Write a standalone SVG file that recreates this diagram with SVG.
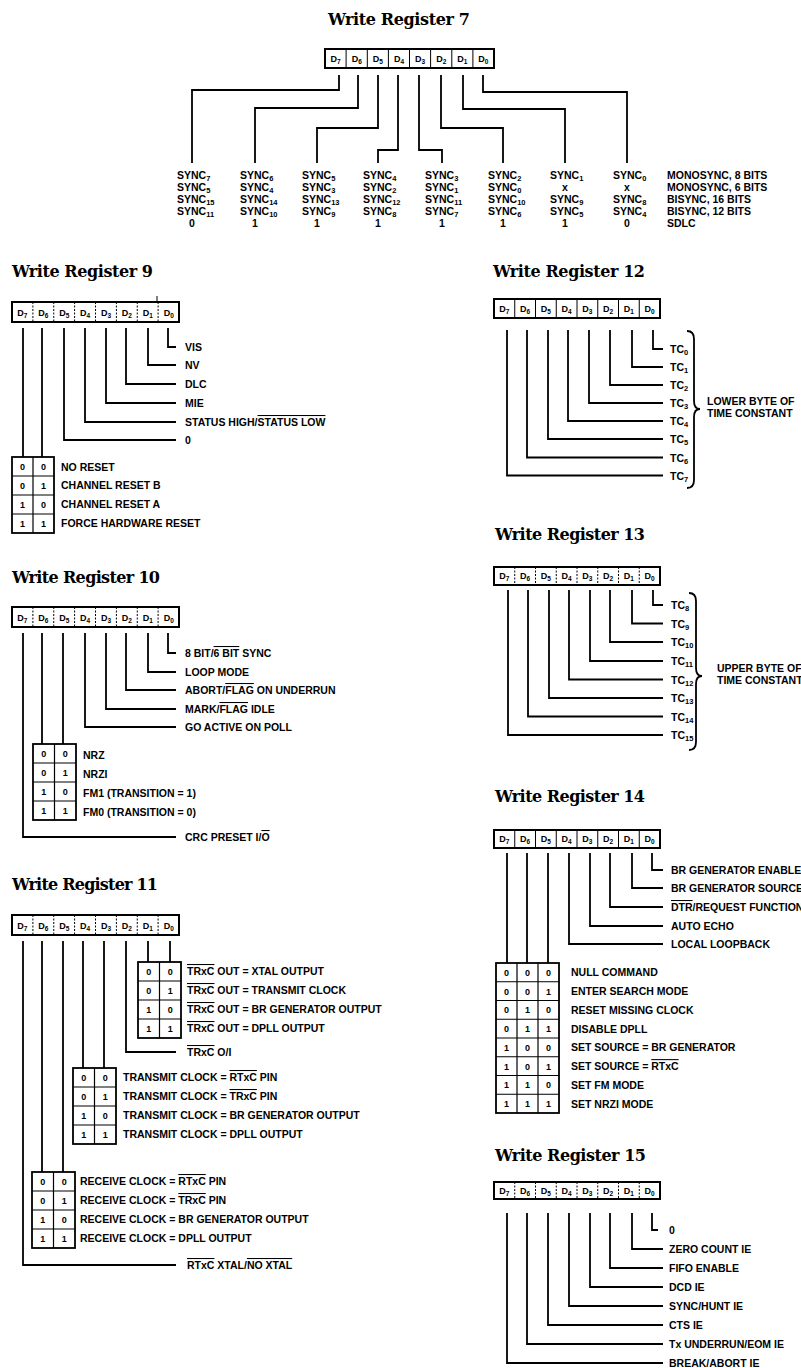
<svg xmlns="http://www.w3.org/2000/svg" width="801" height="1368" viewBox="0 0 801 1368">
<style>
.t{font-family:"DejaVu Serif","Liberation Serif",serif;font-weight:bold;font-size:16px;fill:#000}
.l{font-family:"Liberation Sans",Arial,sans-serif;font-weight:bold;font-size:10.5px;fill:#000}
.m{text-anchor:middle}
.c{font-family:"Liberation Sans",Arial,sans-serif;font-weight:bold;font-size:9px;text-anchor:middle;fill:#000}
.s{font-size:6.5px}
.ss{font-size:7.5px}
.w{fill:none;stroke:#000;stroke-width:1.8}
.bx{fill:none;stroke:#000;stroke-width:2}
.dv{stroke:#000;stroke-width:1}
.dd{stroke:#000;stroke-width:1;stroke-dasharray:2 1.5}
.tb{fill:none;stroke:#000;stroke-width:1.8}
.tl{stroke:#000;stroke-width:1.2}
.o{text-decoration:overline}
</style>
<rect width="801" height="1368" fill="#fff"/>

<!-- ================= WR7 ================= -->
<g id="wr7">
<text class="t" x="328" y="25" textLength="142">Write Register 7</text>
<rect class="bx" x="325" y="49" width="169" height="19"/>
<path class="dv" d="M346.1 49V68M367.3 49V68M388.4 49V68M409.5 49V68M430.6 49V68M451.8 49V68M472.9 49V68"/>
<text class="c" x="335.6" y="62">D<tspan class="s" dy="2">7</tspan></text>
<text class="c" x="356.7" y="62">D<tspan class="s" dy="2">6</tspan></text>
<text class="c" x="377.8" y="62">D<tspan class="s" dy="2">5</tspan></text>
<text class="c" x="399" y="62">D<tspan class="s" dy="2">4</tspan></text>
<text class="c" x="420.1" y="62">D<tspan class="s" dy="2">3</tspan></text>
<text class="c" x="441.2" y="62">D<tspan class="s" dy="2">2</tspan></text>
<text class="c" x="462.3" y="62">D<tspan class="s" dy="2">1</tspan></text>
<text class="c" x="483.4" y="62">D<tspan class="s" dy="2">0</tspan></text>
<g id="wr7-c1">
<text class="l" x="177" y="179">SYNC<tspan class="ss" dy="2">7</tspan></text>
<text class="l" x="177" y="191">SYNC<tspan class="ss" dy="2">5</tspan></text>
<text class="l" x="177" y="203">SYNC<tspan class="ss" dy="2">15</tspan></text>
<text class="l" x="177" y="215">SYNC<tspan class="ss" dy="2">11</tspan></text>
<text class="l m" x="192" y="227">0</text>
</g>
<g id="wr7-c2">
<text class="l" x="240" y="179">SYNC<tspan class="ss" dy="2">6</tspan></text>
<text class="l" x="240" y="191">SYNC<tspan class="ss" dy="2">4</tspan></text>
<text class="l" x="240" y="203">SYNC<tspan class="ss" dy="2">14</tspan></text>
<text class="l" x="240" y="215">SYNC<tspan class="ss" dy="2">10</tspan></text>
<text class="l m" x="255" y="227">1</text>
</g>
<g id="wr7-c3">
<text class="l" x="302" y="179">SYNC<tspan class="ss" dy="2">5</tspan></text>
<text class="l" x="302" y="191">SYNC<tspan class="ss" dy="2">3</tspan></text>
<text class="l" x="302" y="203">SYNC<tspan class="ss" dy="2">13</tspan></text>
<text class="l" x="302" y="215">SYNC<tspan class="ss" dy="2">9</tspan></text>
<text class="l m" x="317" y="227">1</text>
</g>
<g id="wr7-c4">
<text class="l" x="363" y="179">SYNC<tspan class="ss" dy="2">4</tspan></text>
<text class="l" x="363" y="191">SYNC<tspan class="ss" dy="2">2</tspan></text>
<text class="l" x="363" y="203">SYNC<tspan class="ss" dy="2">12</tspan></text>
<text class="l" x="363" y="215">SYNC<tspan class="ss" dy="2">8</tspan></text>
<text class="l m" x="378" y="227">1</text>
</g>
<g id="wr7-c5">
<text class="l" x="425" y="179">SYNC<tspan class="ss" dy="2">3</tspan></text>
<text class="l" x="425" y="191">SYNC<tspan class="ss" dy="2">1</tspan></text>
<text class="l" x="425" y="203">SYNC<tspan class="ss" dy="2">11</tspan></text>
<text class="l" x="425" y="215">SYNC<tspan class="ss" dy="2">7</tspan></text>
<text class="l m" x="442" y="227">1</text>
</g>
<g id="wr7-c6">
<text class="l" x="488" y="179">SYNC<tspan class="ss" dy="2">2</tspan></text>
<text class="l" x="488" y="191">SYNC<tspan class="ss" dy="2">0</tspan></text>
<text class="l" x="488" y="203">SYNC<tspan class="ss" dy="2">10</tspan></text>
<text class="l" x="488" y="215">SYNC<tspan class="ss" dy="2">6</tspan></text>
<text class="l m" x="503" y="227">1</text>
</g>
<g id="wr7-c7">
<text class="l" x="550" y="179">SYNC<tspan class="ss" dy="2">1</tspan></text>
<text class="l m" x="565" y="191">x</text>
<text class="l" x="550" y="203">SYNC<tspan class="ss" dy="2">9</tspan></text>
<text class="l" x="550" y="215">SYNC<tspan class="ss" dy="2">5</tspan></text>
<text class="l m" x="565" y="227">1</text>
</g>
<g id="wr7-c8">
<text class="l" x="613" y="179">SYNC<tspan class="ss" dy="2">0</tspan></text>
<text class="l m" x="627" y="191">x</text>
<text class="l" x="613" y="203">SYNC<tspan class="ss" dy="2">8</tspan></text>
<text class="l" x="613" y="215">SYNC<tspan class="ss" dy="2">4</tspan></text>
<text class="l m" x="627" y="227">0</text>
</g>
<g id="wr7-modes">
<text class="l" x="667" y="179">MONOSYNC, 8 BITS</text>
<text class="l" x="667" y="191">MONOSYNC, 6 BITS</text>
<text class="l" x="667" y="203">BISYNC, 16 BITS</text>
<text class="l" x="667" y="215">BISYNC, 12 BITS</text>
<text class="l" x="667" y="227">SDLC</text>
</g>
</g>

<!-- ================= WR9 ================= -->
<g id="wr9">
<text class="t" x="12" y="277" textLength="141">Write Register 9</text>
<rect class="bx" x="12" y="302" width="167" height="20"/>
<path class="dd" d="M32.9 302V322M53.75 302V322M74.6 302V322M95.5 302V322M116.4 302V322M137.25 302V322M158.1 302V322"/>
<path class="dv" d="M157 296V302"/>
<text class="c" x="22.4" y="316">D<tspan class="s" dy="2">7</tspan></text>
<text class="c" x="43.3" y="316">D<tspan class="s" dy="2">6</tspan></text>
<text class="c" x="64.2" y="316">D<tspan class="s" dy="2">5</tspan></text>
<text class="c" x="85.1" y="316">D<tspan class="s" dy="2">4</tspan></text>
<text class="c" x="106" y="316">D<tspan class="s" dy="2">3</tspan></text>
<text class="c" x="126.9" y="316">D<tspan class="s" dy="2">2</tspan></text>
<text class="c" x="147.8" y="316">D<tspan class="s" dy="2">1</tspan></text>
<text class="c" x="168.7" y="316">D<tspan class="s" dy="2">0</tspan></text>
<text class="l" x="185" y="351">VIS</text>
<text class="l" x="185" y="369">NV</text>
<text class="l" x="185" y="388">DLC</text>
<text class="l" x="185" y="407">MIE</text>
<text class="l" x="185" y="426">STATUS HIGH/<tspan class="o">STATUS LOW</tspan></text>
<text class="l" x="185" y="444">0</text>
<g id="wr9-table">
<rect class="tb" x="12" y="457" width="42" height="76"/>
<path class="tl" d="M33 457V533M12 476H54M12 495H54M12 514H54"/>
<text class="c" x="22.5" y="470">0</text><text class="c" x="43.5" y="470">0</text>
<text class="c" x="22.5" y="489">0</text><text class="c" x="43.5" y="489">1</text>
<text class="c" x="22.5" y="508">1</text><text class="c" x="43.5" y="508">0</text>
<text class="c" x="22.5" y="527">1</text><text class="c" x="43.5" y="527">1</text>
</g>
<text class="l" x="61" y="471">NO RESET</text>
<text class="l" x="61" y="489">CHANNEL RESET B</text>
<text class="l" x="61" y="508">CHANNEL RESET A</text>
<text class="l" x="61" y="527">FORCE HARDWARE RESET</text>
</g>

<!-- ================= WR10 ================= -->
<g id="wr10">
<text class="t" x="12" y="583" textLength="148">Write Register 10</text>
<rect class="bx" x="12" y="607" width="167" height="20"/>
<path class="dd" d="M32.9 607V627M53.75 607V627M74.6 607V627M95.5 607V627M116.4 607V627M137.25 607V627M158.1 607V627"/>
<text class="c" x="22.4" y="621">D<tspan class="s" dy="2">7</tspan></text>
<text class="c" x="43.3" y="621">D<tspan class="s" dy="2">6</tspan></text>
<text class="c" x="64.2" y="621">D<tspan class="s" dy="2">5</tspan></text>
<text class="c" x="85.1" y="621">D<tspan class="s" dy="2">4</tspan></text>
<text class="c" x="106" y="621">D<tspan class="s" dy="2">3</tspan></text>
<text class="c" x="126.9" y="621">D<tspan class="s" dy="2">2</tspan></text>
<text class="c" x="147.8" y="621">D<tspan class="s" dy="2">1</tspan></text>
<text class="c" x="168.7" y="621">D<tspan class="s" dy="2">0</tspan></text>
<text class="l" x="185" y="657">8 BIT/<tspan class="o">6 BIT</tspan> SYNC</text>
<text class="l" x="185" y="676">LOOP MODE</text>
<text class="l" x="185" y="694">ABORT/<tspan class="o">FLAG</tspan> ON UNDERRUN</text>
<text class="l" x="185" y="713">MARK/<tspan class="o">FLAG</tspan> IDLE</text>
<text class="l" x="185" y="731">GO ACTIVE ON POLL</text>
<g id="wr10-table">
<rect class="tb" x="33" y="744" width="43" height="76"/>
<path class="tl" d="M54.5 744V820M33 763H76M33 782H76M33 801H76"/>
<text class="c" x="43.75" y="757">0</text><text class="c" x="65.25" y="757">0</text>
<text class="c" x="43.75" y="776">0</text><text class="c" x="65.25" y="776">1</text>
<text class="c" x="43.75" y="795">1</text><text class="c" x="65.25" y="795">0</text>
<text class="c" x="43.75" y="814">1</text><text class="c" x="65.25" y="814">1</text>
</g>
<text class="l" x="83" y="759">NRZ</text>
<text class="l" x="83" y="778">NRZI</text>
<text class="l" x="83" y="797">FM1 (TRANSITION = 1)</text>
<text class="l" x="83" y="816">FM0 (TRANSITION = 0)</text>
<text class="l" x="185" y="841">CRC PRESET I/<tspan class="o">O</tspan></text>
</g>

<!-- ================= WR11 ================= -->
<g id="wr11">
<text class="t" x="12" y="890" textLength="146">Write Register 11</text>
<rect class="bx" x="12" y="915" width="167" height="20"/>
<path class="dd" d="M32.9 915V935M53.75 915V935M74.6 915V935M95.5 915V935M116.4 915V935M137.25 915V935M158.1 915V935"/>
<text class="c" x="22.4" y="929">D<tspan class="s" dy="2">7</tspan></text>
<text class="c" x="43.3" y="929">D<tspan class="s" dy="2">6</tspan></text>
<text class="c" x="64.2" y="929">D<tspan class="s" dy="2">5</tspan></text>
<text class="c" x="85.1" y="929">D<tspan class="s" dy="2">4</tspan></text>
<text class="c" x="106" y="929">D<tspan class="s" dy="2">3</tspan></text>
<text class="c" x="126.9" y="929">D<tspan class="s" dy="2">2</tspan></text>
<text class="c" x="147.8" y="929">D<tspan class="s" dy="2">1</tspan></text>
<text class="c" x="168.7" y="929">D<tspan class="s" dy="2">0</tspan></text>
<g id="wr11-table1">
<rect class="tb" x="138" y="962" width="43" height="76"/>
<path class="tl" d="M159.5 962V1038M138 981H181M138 1000H181M138 1019H181"/>
<text class="c" x="148.75" y="975">0</text><text class="c" x="170.25" y="975">0</text>
<text class="c" x="148.75" y="994">0</text><text class="c" x="170.25" y="994">1</text>
<text class="c" x="148.75" y="1013">1</text><text class="c" x="170.25" y="1013">0</text>
<text class="c" x="148.75" y="1032">1</text><text class="c" x="170.25" y="1032">1</text>
</g>
<text class="l" x="187" y="975"><tspan class="o">TRxC</tspan> OUT = XTAL OUTPUT</text>
<text class="l" x="187" y="994"><tspan class="o">TRxC</tspan> OUT = TRANSMIT CLOCK</text>
<text class="l" x="187" y="1013"><tspan class="o">TRxC</tspan> OUT = BR GENERATOR OUTPUT</text>
<text class="l" x="187" y="1032"><tspan class="o">TRxC</tspan> OUT = DPLL OUTPUT</text>
<text class="l" x="187" y="1056"><tspan class="o">TRxC</tspan> O/I</text>
<g id="wr11-table2">
<rect class="tb" x="73" y="1068" width="43" height="76"/>
<path class="tl" d="M94.5 1068V1144M73 1087H116M73 1106H116M73 1125H116"/>
<text class="c" x="83.75" y="1081">0</text><text class="c" x="105.25" y="1081">0</text>
<text class="c" x="83.75" y="1100">0</text><text class="c" x="105.25" y="1100">1</text>
<text class="c" x="83.75" y="1119">1</text><text class="c" x="105.25" y="1119">0</text>
<text class="c" x="83.75" y="1138">1</text><text class="c" x="105.25" y="1138">1</text>
</g>
<text class="l" x="123" y="1081">TRANSMIT CLOCK = <tspan class="o">RTxC</tspan> PIN</text>
<text class="l" x="123" y="1100">TRANSMIT CLOCK = <tspan class="o">TRxC</tspan> PIN</text>
<text class="l" x="123" y="1119">TRANSMIT CLOCK = BR GENERATOR OUTPUT</text>
<text class="l" x="123" y="1138">TRANSMIT CLOCK = DPLL OUTPUT</text>
<g id="wr11-table3">
<rect class="tb" x="32" y="1172" width="43" height="76"/>
<path class="tl" d="M53.5 1172V1248M32 1191H75M32 1210H75M32 1229H75"/>
<text class="c" x="42.75" y="1185">0</text><text class="c" x="64.25" y="1185">0</text>
<text class="c" x="42.75" y="1204">0</text><text class="c" x="64.25" y="1204">1</text>
<text class="c" x="42.75" y="1223">1</text><text class="c" x="64.25" y="1223">0</text>
<text class="c" x="42.75" y="1242">1</text><text class="c" x="64.25" y="1242">1</text>
</g>
<text class="l" x="80" y="1185">RECEIVE CLOCK = <tspan class="o">RTxC</tspan> PIN</text>
<text class="l" x="80" y="1204">RECEIVE CLOCK = <tspan class="o">TRxC</tspan> PIN</text>
<text class="l" x="80" y="1223">RECEIVE CLOCK = BR GENERATOR OUTPUT</text>
<text class="l" x="80" y="1242">RECEIVE CLOCK = DPLL OUTPUT</text>
<text class="l" x="187" y="1269"><tspan class="o">RTxC</tspan> XTAL/<tspan class="o">NO XTAL</tspan></text>
</g>

<!-- ================= WR12 ================= -->
<g id="wr12">
<text class="t" x="493" y="277" textLength="152">Write Register 12</text>
<rect class="bx" x="494" y="299" width="166" height="19"/>
<path class="dv" d="M514.75 299V318M535.5 299V318M556.25 299V318M577 299V318M597.75 299V318M618.5 299V318M639.25 299V318"/>
<text class="c" x="504.4" y="312">D<tspan class="s" dy="2">7</tspan></text>
<text class="c" x="525.1" y="312">D<tspan class="s" dy="2">6</tspan></text>
<text class="c" x="545.9" y="312">D<tspan class="s" dy="2">5</tspan></text>
<text class="c" x="566.6" y="312">D<tspan class="s" dy="2">4</tspan></text>
<text class="c" x="587.4" y="312">D<tspan class="s" dy="2">3</tspan></text>
<text class="c" x="608.1" y="312">D<tspan class="s" dy="2">2</tspan></text>
<text class="c" x="628.9" y="312">D<tspan class="s" dy="2">1</tspan></text>
<text class="c" x="649.6" y="312">D<tspan class="s" dy="2">0</tspan></text>
<text class="l" x="670" y="353">TC<tspan class="ss" dy="2">0</tspan></text>
<text class="l" x="670" y="371">TC<tspan class="ss" dy="2">1</tspan></text>
<text class="l" x="670" y="389">TC<tspan class="ss" dy="2">2</tspan></text>
<text class="l" x="670" y="407">TC<tspan class="ss" dy="2">3</tspan></text>
<text class="l" x="670" y="425">TC<tspan class="ss" dy="2">4</tspan></text>
<text class="l" x="670" y="443">TC<tspan class="ss" dy="2">5</tspan></text>
<text class="l" x="670" y="461.5">TC<tspan class="ss" dy="2">6</tspan></text>
<text class="l" x="670" y="479.5">TC<tspan class="ss" dy="2">7</tspan></text>
<path class="w" d="M687 331Q694 331 694 339V401Q694 409 700 409Q694 409 694 417V480Q694 488 687 488"/>
<text class="l" x="707" y="405">LOWER BYTE OF</text>
<text class="l" x="707" y="417">TIME CONSTANT</text>
</g>

<!-- ================= WR13 ================= -->
<g id="wr13">
<text class="t" x="495" y="540" textLength="150">Write Register 13</text>
<rect class="bx" x="494" y="567" width="166" height="18"/>
<path class="dd" d="M514.75 567V585M535.5 567V585M556.25 567V585M577 567V585M597.75 567V585M618.5 567V585M639.25 567V585"/>
<text class="c" x="504.4" y="579">D<tspan class="s" dy="2">7</tspan></text>
<text class="c" x="525.1" y="579">D<tspan class="s" dy="2">6</tspan></text>
<text class="c" x="545.9" y="579">D<tspan class="s" dy="2">5</tspan></text>
<text class="c" x="566.6" y="579">D<tspan class="s" dy="2">4</tspan></text>
<text class="c" x="587.4" y="579">D<tspan class="s" dy="2">3</tspan></text>
<text class="c" x="608.1" y="579">D<tspan class="s" dy="2">2</tspan></text>
<text class="c" x="628.9" y="579">D<tspan class="s" dy="2">1</tspan></text>
<text class="c" x="649.6" y="579">D<tspan class="s" dy="2">0</tspan></text>
<text class="l" x="671" y="609">TC<tspan class="ss" dy="2">8</tspan></text>
<text class="l" x="671" y="627.5">TC<tspan class="ss" dy="2">9</tspan></text>
<text class="l" x="671" y="646">TC<tspan class="ss" dy="2">10</tspan></text>
<text class="l" x="671" y="665">TC<tspan class="ss" dy="2">11</tspan></text>
<text class="l" x="671" y="683.5">TC<tspan class="ss" dy="2">12</tspan></text>
<text class="l" x="671" y="702">TC<tspan class="ss" dy="2">13</tspan></text>
<text class="l" x="671" y="720.5">TC<tspan class="ss" dy="2">14</tspan></text>
<text class="l" x="671" y="739">TC<tspan class="ss" dy="2">15</tspan></text>
<path class="w" d="M689 593Q696 593 696 601V668Q696 676 702 676Q696 676 696 684V742Q696 750 689 750"/>
<text class="l" x="717" y="672">UPPER BYTE OF</text>
<text class="l" x="717" y="684">TIME CONSTANT</text>
</g>

<!-- ================= WR14 ================= -->
<g id="wr14">
<text class="t" x="495" y="802" textLength="150">Write Register 14</text>
<rect class="bx" x="494" y="830" width="166" height="18"/>
<path class="dv" d="M514.75 830V848M535.5 830V848M556.25 830V848M577 830V848M597.75 830V848M618.5 830V848M639.25 830V848"/>
<text class="c" x="504.4" y="842">D<tspan class="s" dy="2">7</tspan></text>
<text class="c" x="525.1" y="842">D<tspan class="s" dy="2">6</tspan></text>
<text class="c" x="545.9" y="842">D<tspan class="s" dy="2">5</tspan></text>
<text class="c" x="566.6" y="842">D<tspan class="s" dy="2">4</tspan></text>
<text class="c" x="587.4" y="842">D<tspan class="s" dy="2">3</tspan></text>
<text class="c" x="608.1" y="842">D<tspan class="s" dy="2">2</tspan></text>
<text class="c" x="628.9" y="842">D<tspan class="s" dy="2">1</tspan></text>
<text class="c" x="649.6" y="842">D<tspan class="s" dy="2">0</tspan></text>
<text class="l" x="671" y="874">BR GENERATOR ENABLE</text>
<text class="l" x="671" y="892">BR GENERATOR SOURCE</text>
<text class="l" x="671" y="911"><tspan class="o">DTR</tspan>/REQUEST FUNCTION</text>
<text class="l" x="671" y="930">AUTO ECHO</text>
<text class="l" x="671" y="948">LOCAL LOOPBACK</text>
<g id="wr14-table">
<rect class="tb" x="496" y="963" width="63" height="150"/>
<path class="tl" d="M517 963V1113M538 963V1113M496 981.75H559M496 1000.5H559M496 1019.25H559M496 1038H559M496 1056.75H559M496 1075.5H559M496 1094.25H559"/>
<text class="c" x="506.5" y="976">0</text><text class="c" x="527.5" y="976">0</text><text class="c" x="548.5" y="976">0</text>
<text class="c" x="506.5" y="994.6">0</text><text class="c" x="527.5" y="994.6">0</text><text class="c" x="548.5" y="994.6">1</text>
<text class="c" x="506.5" y="1013.4">0</text><text class="c" x="527.5" y="1013.4">1</text><text class="c" x="548.5" y="1013.4">0</text>
<text class="c" x="506.5" y="1032">0</text><text class="c" x="527.5" y="1032">1</text><text class="c" x="548.5" y="1032">1</text>
<text class="c" x="506.5" y="1051">1</text><text class="c" x="527.5" y="1051">0</text><text class="c" x="548.5" y="1051">0</text>
<text class="c" x="506.5" y="1069.6">1</text><text class="c" x="527.5" y="1069.6">0</text><text class="c" x="548.5" y="1069.6">1</text>
<text class="c" x="506.5" y="1088.4">1</text><text class="c" x="527.5" y="1088.4">1</text><text class="c" x="548.5" y="1088.4">0</text>
<text class="c" x="506.5" y="1107">1</text><text class="c" x="527.5" y="1107">1</text><text class="c" x="548.5" y="1107">1</text>
</g>
<text class="l" x="571" y="976.4">NULL COMMAND</text>
<text class="l" x="571" y="995">ENTER SEARCH MODE</text>
<text class="l" x="571" y="1013.9">RESET MISSING CLOCK</text>
<text class="l" x="571" y="1032.6">DISABLE DPLL</text>
<text class="l" x="571" y="1051.4">SET SOURCE = BR GENERATOR</text>
<text class="l" x="571" y="1070.1">SET SOURCE = <tspan class="o">RTxC</tspan></text>
<text class="l" x="571" y="1088.9">SET FM MODE</text>
<text class="l" x="571" y="1107.6">SET NRZI MODE</text>
</g>

<!-- ================= WR15 ================= -->
<g id="wr15">
<text class="t" x="495" y="1161" textLength="151">Write Register 15</text>
<rect class="bx" x="494" y="1182" width="166" height="17"/>
<path class="dd" d="M514.75 1182V1199M535.5 1182V1199M556.25 1182V1199M577 1182V1199M597.75 1182V1199M618.5 1182V1199M639.25 1182V1199"/>
<text class="c" x="504.4" y="1194">D<tspan class="s" dy="2">7</tspan></text>
<text class="c" x="525.1" y="1194">D<tspan class="s" dy="2">6</tspan></text>
<text class="c" x="545.9" y="1194">D<tspan class="s" dy="2">5</tspan></text>
<text class="c" x="566.6" y="1194">D<tspan class="s" dy="2">4</tspan></text>
<text class="c" x="587.4" y="1194">D<tspan class="s" dy="2">3</tspan></text>
<text class="c" x="608.1" y="1194">D<tspan class="s" dy="2">2</tspan></text>
<text class="c" x="628.9" y="1194">D<tspan class="s" dy="2">1</tspan></text>
<text class="c" x="649.6" y="1194">D<tspan class="s" dy="2">0</tspan></text>
<text class="l" x="669" y="1234">0</text>
<text class="l" x="669" y="1253">ZERO COUNT IE</text>
<text class="l" x="669" y="1272">FIFO ENABLE</text>
<text class="l" x="669" y="1291">DCD IE</text>
<text class="l" x="669" y="1310">SYNC/HUNT IE</text>
<text class="l" x="669" y="1329">CTS IE</text>
<text class="l" x="669" y="1348">Tx UNDERRUN/EOM IE</text>
<text class="l" x="669" y="1367">BREAK/ABORT IE</text>
</g>

<!-- ================= connectors ================= -->
<g id="connectors" class="w">
<path d="M339 75V90H192V163M358 75V108H255V163M378 75V128H317V163M398 75V150H378V163M419 75V150H442V163M441 75V128H503V163M463 75V109H565V163M483 75V92H627V163"/>
<path d="M168 328V347H176M148 328V365H176M126 328V384H176M106 328V403H176M85 328V422H176M64 328V440H176M42 328V457M23 328V457"/>
<path d="M168 633V653H176M148 633V672H176M126 633V690H176M106 633V709H176M85 633V727H176M63 633V744M42 633V744M23 633V837H176"/>
<path d="M170 941V962M148 941V962M126 941V1052H176M104 941V1068M83 941V1068M63 941V1172M42 941V1172M23 941V1265H176"/>
<path d="M653 330V349H663M632 330V367H663M610 330V385H663M589 330V403H663M568 330V421H663M548 330V439H663M527 330V457.5H663M507 330V475.5H663"/>
<path d="M653 590V605H663M632 590V623.5H663M610 590V642H663M590 590V661H663M569 590V679.5H663M549 590V698H663M528 590V716.5H663M508 590V735H663"/>
<path d="M652 853V870H663M632 853V888H663M610 853V907H663M590 853V926H663M569 853V944H663M548 853V963M527 853V963M507 853V963"/>
<path d="M652 1213V1230H658M632 1213V1249H663M610 1213V1268H663M590 1213V1287H663M569 1213V1306H663M548 1213V1325H663M527 1213V1344H663M507 1213V1363H663"/>
</g>
</svg>
